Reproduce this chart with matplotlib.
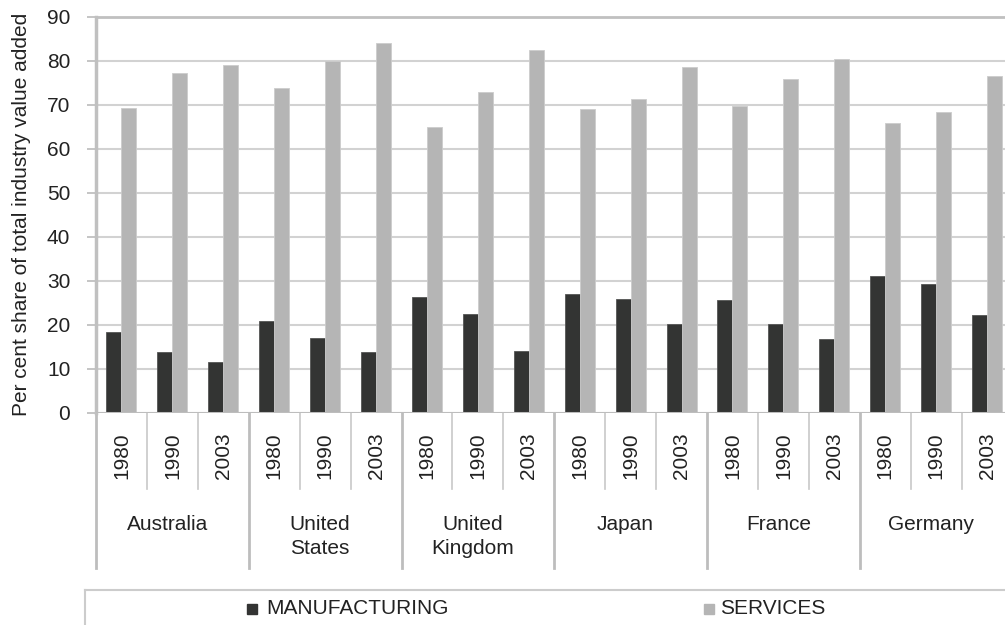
import matplotlib
matplotlib.use("Agg")
import matplotlib.pyplot as plt
from matplotlib.lines import Line2D
from matplotlib.patches import Rectangle

countries = ["Australia", "United\nStates", "United\nKingdom", "Japan", "France", "Germany"]
years = ["1980", "1990", "2003"]
manufacturing = [18.3, 13.8, 11.6,
                 20.8, 17.1, 13.8,
                 26.4, 22.5, 14.0,
                 27.1, 25.8, 20.1,
                 25.6, 20.3, 16.9,
                 31.2, 29.2, 22.3]
services = [69.2, 77.2, 79.1,
            73.8, 80.0, 84.0,
            65.0, 73.0, 82.4,
            69.0, 71.3, 78.6,
            69.8, 75.9, 80.5,
            65.8, 68.4, 76.6]
yticks = [0, 10, 20, 30, 40, 50, 60, 70, 80, 90]

plt.rcParams['font.family'] = ['Liberation Sans', 'DejaVu Sans']
TXT = '#222222'
FS = 15
W, H = 1005, 625
fig = plt.figure(figsize=(W / 100, H / 100), dpi=100)
x0, x1 = 96, 96 + 916.5
y0, y1 = 413, 16.7
ax = fig.add_axes([x0 / W, 1 - y0 / H, (x1 - x0) / W, (y0 - y1) / H])

n = len(manufacturing)
xs = list(range(n))
bw = 0.295
ax.bar([x - bw / 2 for x in xs], manufacturing, width=bw, color='#333433',
       edgecolor='#555555', linewidth=0.6, zorder=3)
ax.bar([x + bw / 2 for x in xs], services, width=bw, color='#b5b5b5',
       edgecolor='#cccccc', linewidth=0.6, zorder=3)

ax.set_xlim(-0.5, n - 0.5)
ax.set_ylim(0, 90)
ax.set_yticks(yticks)
ax.set_yticklabels([str(t) for t in yticks], fontsize=FS, color=TXT)
ax.tick_params(axis='y', length=6.5, width=1.2, color='#bbbbbb', pad=12)
ax.tick_params(axis='x', length=0, labelbottom=False)
ax.grid(axis='y', color='#d2d2d2', linewidth=1.5, zorder=0)
for s in ['right', 'bottom']:
    ax.spines[s].set_visible(False)
ax.spines['top'].set_color('#c0c0c0')
ax.spines['top'].set_linewidth(2)
ax.spines['left'].set_color('#c0c0c0')
ax.spines['left'].set_linewidth(2.5)
ax.axhline(0, color='#bdbdbd', linewidth=2.2, zorder=4)

ax.set_ylabel("Per cent share of total industry value added", fontsize=FS, color=TXT)
ax.yaxis.set_label_coords(-(x0 - 22) / (x1 - x0), 0.5)
ax.yaxis.label.set_va('center')

tr = ax.get_xaxis_transform()
def fy(py):
    return (y0 - py) / (y0 - y1)

for i in range(n):
    ax.text(i, fy(432), years[i % 3], rotation=90, ha='center', va='top',
            fontsize=FS, color=TXT, transform=tr)
    if i % 3 != 0:
        ax.add_line(Line2D([i - 0.5, i - 0.5], [fy(413), fy(489)], transform=tr,
                           color='#c8c8c8', linewidth=1.2, clip_on=False))
for g in range(len(countries) + 1):
    xx = g * 3 - 0.5
    if xx > n - 0.6:
        continue
    ax.add_line(Line2D([xx, xx], [fy(413), fy(568)], transform=tr,
                       color='#bdbdbd', linewidth=2, clip_on=False))
for g, c in enumerate(countries):
    ax.text(g * 3 + 1 - 0.1, fy(515), c, ha='center', va='top', fontsize=FS,
            color=TXT, transform=tr, linespacing=1.35)

# legend box
fig.add_artist(Line2D([85 / W, 1], [1 - 590 / H, 1 - 590 / H], color='#cccccc', linewidth=1.5))
fig.add_artist(Line2D([85 / W, 85 / W], [1 - 590 / H, 0], color='#cccccc', linewidth=1.5))
fig.add_artist(Rectangle((247 / W, 1 - 614 / H), 10 / W, 10 / H, color='#333433'))
fig.text(266 / W, 1 - 609 / H, "MANUFACTURING", fontsize=FS, color=TXT, va='center', ha='left')
fig.add_artist(Rectangle((704 / W, 1 - 614 / H), 10 / W, 10 / H, color='#b5b5b5'))
fig.text(720 / W, 1 - 609 / H, "SERVICES", fontsize=FS, color=TXT, va='center', ha='left')

fig.savefig("out.png", dpi=100)
